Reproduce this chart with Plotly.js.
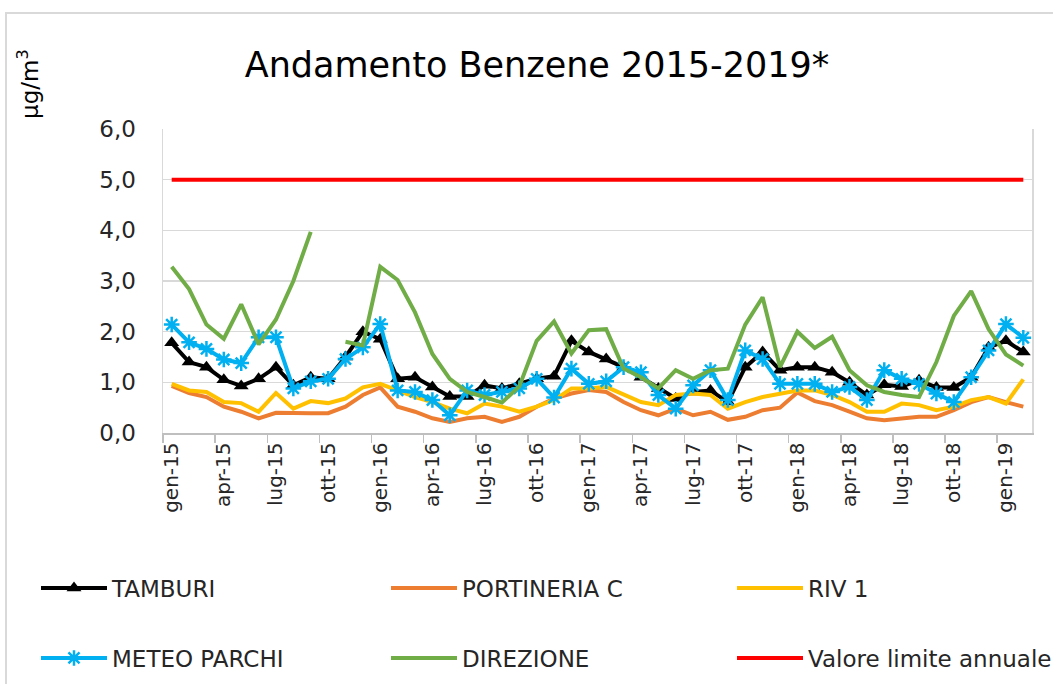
<!DOCTYPE html>
<html><head><meta charset="utf-8">
<script src="https://cdn.plot.ly/plotly-3.0.1.min.js"></script>
<style>
html,body{margin:0;padding:0;background:#fff;}
#chart{position:absolute;left:0;top:0;width:1053px;height:684px;}
#frame{position:absolute;left:5px;top:12px;width:1100px;height:720px;border:2px solid #d9d9d9;pointer-events:none;}
</style></head><body>
<div id="chart"></div><div id="frame"></div>
<script>
const monthNames = ['gen','feb','mar','apr','mag','giu','lug','ago','set','ott','nov','dic'];
const years = ['15','16','17','18','19'];
const months = [];
for (const y of years) for (const m of monthNames) if (months.length < 50) months.push(m + '-' + y);

const tamburi = [1.78,1.40,1.30,1.05,0.93,1.07,1.30,0.94,1.10,1.07,1.50,2.00,1.85,1.07,1.10,0.91,0.72,0.72,0.94,0.88,0.97,1.07,1.12,1.82,1.60,1.46,1.30,1.10,0.88,0.68,0.81,0.84,0.61,1.30,1.60,1.24,1.30,1.30,1.20,1.00,0.75,0.95,0.92,1.04,0.90,0.90,1.10,1.69,1.82,1.60];
const portineria = [0.93,0.79,0.71,0.52,0.42,0.29,0.40,0.39,0.39,0.39,0.52,0.75,0.90,0.52,0.42,0.29,0.22,0.29,0.32,0.22,0.32,0.52,0.68,0.78,0.85,0.81,0.61,0.45,0.35,0.48,0.35,0.42,0.26,0.32,0.45,0.50,0.80,0.63,0.55,0.42,0.29,0.25,0.29,0.32,0.32,0.45,0.61,0.71,0.61,0.52];
const riv1 = [0.97,0.84,0.81,0.61,0.59,0.42,0.79,0.48,0.63,0.59,0.68,0.90,0.97,0.84,0.71,0.61,0.48,0.39,0.58,0.52,0.42,0.52,0.65,0.88,0.88,0.91,0.75,0.61,0.55,0.75,0.78,0.75,0.48,0.61,0.71,0.78,0.84,0.84,0.75,0.61,0.42,0.42,0.58,0.55,0.45,0.52,0.65,0.71,0.58,1.06];
const meteoParchi = [2.14,1.79,1.66,1.45,1.38,1.89,1.89,0.88,1.02,1.07,1.46,1.69,2.15,0.84,0.81,0.65,0.35,0.84,0.75,0.81,0.88,1.07,0.70,1.27,0.97,1.02,1.30,1.20,0.75,0.48,0.94,1.24,0.65,1.63,1.46,0.97,0.97,0.97,0.81,0.91,0.65,1.24,1.07,0.97,0.78,0.61,1.10,1.63,2.15,1.88];
const direzione = [3.28,2.84,2.14,1.86,2.54,1.75,2.24,3.00,3.97,null,1.80,1.73,3.28,3.02,2.38,1.56,1.07,0.81,0.71,0.60,0.92,1.82,2.20,1.57,2.03,2.05,1.27,1.10,0.88,1.24,1.07,1.24,1.27,2.14,2.68,1.30,2.00,1.68,1.90,1.24,0.94,0.81,0.75,0.71,1.40,2.31,2.80,2.05,1.55,1.33];
const limiteAnnuale = months.map(() => 5.0);

const FONT = 'DejaVu Sans, sans-serif';
const TXT = '#262626';

const specs = [
  {name:'TAMBURI', y:tamburi, color:'#000000', mode:'lines+markers', marker:{symbol:'triangle-up', size:13, color:'#000000'}, legend:'legend'},
  {name:'PORTINERIA C', y:portineria, color:'#ED7D31', mode:'lines', legend:'legend2'},
  {name:'RIV 1', y:riv1, color:'#FFC000', mode:'lines', legend:'legend3'},
  {name:'METEO PARCHI', y:meteoParchi, color:'#00B0F0', mode:'lines+markers', marker:{symbol:'asterisk-open', size:13, color:'#00B0F0', line:{color:'#00B0F0', width:2.5}}, legend:'legend4'},
  {name:'DIREZIONE', y:direzione, color:'#70AD47', mode:'lines', legend:'legend5'},
  {name:'Valore limite annuale', y:limiteAnnuale, color:'#FF0000', mode:'lines', legend:'legend6'}
];
const traces = specs.map(t => {
  const tr = {
    type:'scatter', x:months, y:t.y, name:t.name, mode:t.mode,
    line:{color:t.color, width:4}, connectgaps:false, legend:t.legend
  };
  if (t.marker) tr.marker = t.marker;
  return tr;
});

function leg(px, py) {
  return {x:px/1053, y:1 - py/684, xref:'container', yref:'container', xanchor:'left', yanchor:'middle',
          bgcolor:'rgba(0,0,0,0)', font:{family:FONT, size:23, color:TXT}, itemwidth:66};
}

const layout = {
  width:1053, height:684,
  margin:{l:163, r:21, t:129, b:251, autoexpand:false},
  paper_bgcolor:'rgba(0,0,0,0)', plot_bgcolor:'#ffffff',
  separators:',.',
  font:{family:FONT, color:TXT},
  title:{text:'Andamento Benzene 2015-2019*', x:537/1053, xanchor:'center', y:1 - 65/684, yanchor:'middle',
         font:{family:FONT, size:35, color:'#000000'}},
  xaxis:{type:'category', range:[-0.5, 49.5], tickmode:'linear', tick0:0, dtick:3, tickson:'boundaries',
         ticks:'outside', ticklen:8, tickcolor:'#bfbfbf', tickwidth:1.5, showgrid:false, automargin:false,
         showline:true, linecolor:'#bfbfbf', linewidth:1.5, tickangle:-90,
         tickfont:{family:FONT, size:20, color:TXT}},
  yaxis:{range:[0, 6], tickmode:'linear', tick0:0, dtick:1, tickformat:'.1f', automargin:false,
         showgrid:true, gridcolor:'#d9d9d9', gridwidth:1.5, zeroline:false,
         showline:true, mirror:true, linecolor:'#d9d9d9', linewidth:1.5,
         ticks:'', ticklabelstandoff:21, tickfont:{family:FONT, size:23, color:TXT}},
  showlegend:true,
  legend:leg(36, 588), legend2:leg(386, 588), legend3:leg(732, 588),
  legend4:leg(36, 658), legend5:leg(386, 658), legend6:leg(732, 658),
  annotations:[{text:'µg/m<sup>3</sup>', xref:'paper', yref:'paper', x:(28-163)/869, y:(433-84)/304,
                xanchor:'center', yanchor:'middle', textangle:-90, showarrow:false,
                font:{family:FONT, size:23, color:'#000000'}}]
};

Plotly.newPlot('chart', traces, layout, {displayModeBar:false, staticPlot:true});
</script>
</body></html>
